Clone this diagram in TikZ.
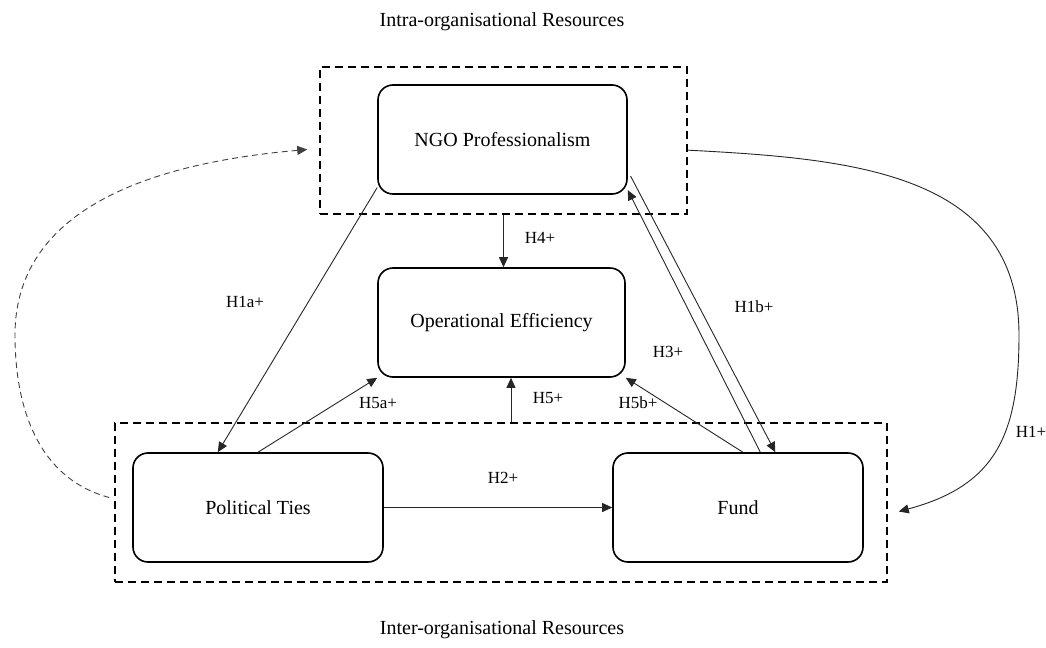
\documentclass[tikz,border=0pt]{standalone}
\usepackage{fontspec}
\setmainfont{Liberation Serif}
\usetikzlibrary{arrows.meta,calc}

\tikzset{
  construct/.style={draw,line width=0.8pt,rounded corners=7.5pt,minimum width=124.5pt,minimum height=54.5pt,font=\fontsize{10}{12}\selectfont},
  resgroup/.style={draw,line width=0.75pt,dash pattern=on 4pt off 2.5pt,inner sep=0pt},
  hyp/.style={font=\fontsize{8.5}{10}\selectfont,inner sep=1pt},
  grouptitle/.style={font=\fontsize{10}{12}\selectfont},
  link/.style={-{Triangle[length=5pt,width=4.5pt]},line width=0.45pt,draw=black!85},
  backlink/.style={link,dash pattern=on 3pt off 2pt,draw=black!75}
}

\begin{document}
\begin{tikzpicture}[x=0.5pt,y=-0.5pt]
\useasboundingbox (0,0) rectangle (1046,648);
\node[grouptitle] (intratitle) at (502,22) {Intra-organisational Resources};
\node[grouptitle] (intertitle) at (502,630) {Inter-organisational Resources};
\node[resgroup,minimum width=183.5pt,minimum height=73.5pt] (intra) at (503.5,140.5) {};
\node[resgroup,minimum width=386pt,minimum height=79.5pt] (inter) at (501,502.5) {};
\node[construct] (ngo) at (502.5,139.5) {NGO Professionalism};
\node[construct,minimum width=123.5pt] (opeff) at (501.5,322.5) {Operational Efficiency};
\node[construct,minimum width=125pt] (pt) at (258,507.5) {Political Ties};
\node[construct,minimum width=125pt] (fund) at (738,507.5) {Fund};
\coordinate (h5start) at ($(inter.north)+(10,0)$);
\coordinate (h1bend) at (1019,335);
\coordinate (h1end) at ($(inter.east)+(11,9)$);
\coordinate (backstart) at ($(inter.west)+(-5,-5)$);
\coordinate (backbend) at (15,335);
\coordinate (backend) at ($(intra.west)+(-12,9)$);
\draw[link] (intra.south) -- (intra.south |- opeff.north);
\draw[link] (ngo.201) -- (pt.126);
\draw[link] (pt.north) -- (opeff.south west);
\draw[link] (h5start) -- (h5start |- opeff.south);
\draw[link] (fund.85) -- (opeff.south east);
\draw[link] (fund.68) -- (ngo.-22);
\draw[link,shorten <=3pt] (ngo.-14) -- (fund.56);
\draw[link] (pt.east) -- (fund.west);
\draw[link] (intra.-3) to[out=-3,in=90,looseness=1.1] (h1bend) to[out=-90,in=15,looseness=1.2] (h1end);
\draw[backlink] (backstart) to[out=165,in=-90] (backbend) to[out=90,in=185] (backend);
\node[hyp] (h4) at (540,238) {H4+};
\node[hyp] (h1a) at (245,302) {H1a+};
\node[hyp] (h5a) at (378,403) {H5a+};
\node[hyp] (h5) at (548,398) {H5+};
\node[hyp] (h5b) at (638,403) {H5b+};
\node[hyp] (h2) at (503,478) {H2+};
\node[hyp] (h3) at (668,352) {H3+};
\node[hyp] (h1b) at (754,307) {H1b+};
\node[hyp] (h1) at (1031,432) {H1+};
\end{tikzpicture}
\end{document}
